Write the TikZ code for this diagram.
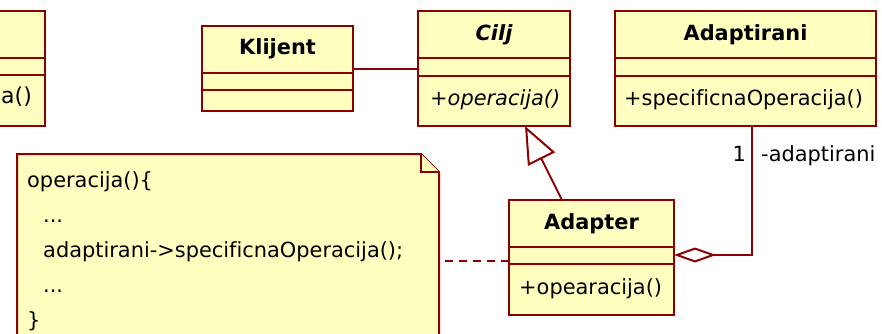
\documentclass[tikz,border=0pt]{standalone}
\usepackage{fontspec}
\setmainfont{DejaVu Sans}[Ligatures=NoCommon]
\usetikzlibrary{arrows.meta}

\definecolor{umlline}{RGB}{140,0,0}
\definecolor{umlfill}{RGB}{255,255,192}

\begin{document}
\begin{tikzpicture}[x=1pt, y=-1pt,
  font=\fontsize{20.9}{35}\selectfont,
  classbox/.style={rectangle, draw=umlline, fill=umlfill, line width=2pt,
    inner sep=0pt, outer sep=0pt, anchor=north west},
  compart/.style={draw=umlline, line width=2pt},
  classname/.style={inner sep=0pt, anchor=center,
    font=\fontsize{20.9}{35}\selectfont\bfseries},
  member/.style={inner sep=0pt, anchor=west},
  notebox/.style={inner sep=0pt, outer sep=0pt, anchor=north west},
  noteline/.style={inner sep=0pt, anchor=base west},
  conn/.style={draw=umlline, line width=2pt},
  realize/.style={conn, dash pattern=on 8pt off 6pt},
  lbl/.style={inner sep=0pt},
]
\useasboundingbox (0,0) rectangle (882,333);

% class partly outside the left edge
\node[classbox, minimum width=115pt, minimum height=115pt] (prev) at (-70,11) {};
\draw[compart] (-70,58) -- (45,58);
\draw[compart] (-70,75) -- (45,75);
\node[member, font=\fontsize{22}{35}\selectfont] (prevop) at (1,97) {a()};

% Klijent
\node[classbox, minimum width=151pt, minimum height=85pt] (klijent) at (202,26) {};
\draw[compart] (202,73) -- (353,73);
\draw[compart] (202,90) -- (353,90);
\node[classname] (klijentname) at (277.5,49) {Klijent};

% Cilj (abstract)
\node[classbox, minimum width=152pt, minimum height=115pt] (cilj) at (418,11) {};
\draw[compart] (418,58) -- (570,58);
\draw[compart] (418,76) -- (570,76);
\node[classname] (ciljname) at (494,34.5) {\itshape Cilj};
\node[member] (ciljop) at (430,99.5) {\itshape +operacija()};

% Adaptirani
\node[classbox, minimum width=261pt, minimum height=115pt] (adaptirani) at (615,11) {};
\draw[compart] (615,58) -- (876,58);
\draw[compart] (615,76) -- (876,76);
\node[classname] (adaptiraniname) at (745.5,34.5) {Adaptirani};
\node[member] (adaptiraniop) at (624,99.5) {+specificnaOperacija()};

% Adapter
\node[classbox, minimum width=165pt, minimum height=115pt] (adapter) at (509,200) {};
\draw[compart] (509,247) -- (674,247);
\draw[compart] (509,264) -- (674,264);
\node[classname] (adaptername) at (591.5,223.5) {Adapter};
\node[member] (adapterop) at (519,289) {+opearacija()};

% note with folded corner
\node[notebox, minimum width=422pt, minimum height=213pt] (note) at (17,154) {};
\draw[conn, fill=umlfill] (note.north west) -- ([xshift=-18pt]note.north east)
  -- ([yshift=-18pt]note.north east) -- (note.south east) -- (note.south west) -- cycle;
\draw[conn, fill=umlfill] ([xshift=-18pt]note.north east)
  -- ([xshift=-18pt,yshift=-18pt]note.north east) -- ([yshift=-18pt]note.north east);
\node[noteline] (notel1) at (27,187.5) {operacija()\{};
\node[noteline] (notel2) at (43,222) {...};
\node[noteline] (notel3) at (43,257) {adaptirani->specificnaOperacija();};
\node[noteline] (notel4) at (43,292) {...};
\node[noteline] (notel5) at (27,327) {\}};

% connectors
\draw[conn] (klijent) -- (cilj);
\draw[conn, -{Triangle[length=37pt, width=30pt, fill=white]}]
  ([xshift=53pt]adapter.north west) -- ([xshift=107pt]cilj.south west);
\draw[conn, -{Diamond[length=42pt, width=15pt, fill=white]}]
  ([xshift=137pt]adaptirani.south west) |- ([yshift=2.5pt]adapter.east);
\draw[realize] ([yshift=-3pt]adapter.west) -- (note.east);

% association end labels
\node[lbl, anchor=base east] (mult) at (746,161.5) {1};
\node[lbl, anchor=base west] (role) at (761,161.5) {-adaptirani};
\end{tikzpicture}
\end{document}
